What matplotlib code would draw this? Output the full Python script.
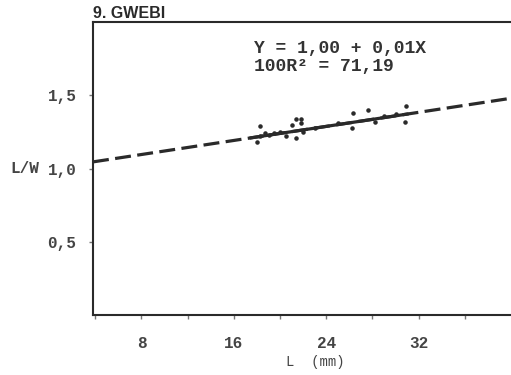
import matplotlib
matplotlib.use("Agg")
import matplotlib.pyplot as plt
import numpy as np

length_mm = [18.0, 18.3, 18.3, 18.7, 19.0, 19.5, 20.0, 20.5, 21.0, 21.4, 21.4,
             21.8, 21.8, 22.0, 23.0, 25.0, 26.2, 26.3, 27.6, 28.2, 29.0, 30.0,
             30.8, 30.9]
ratio_lw = [1.18, 1.29, 1.22, 1.24, 1.23, 1.24, 1.25, 1.22, 1.30, 1.34, 1.21,
            1.34, 1.31, 1.25, 1.28, 1.31, 1.28, 1.38, 1.40, 1.32, 1.36, 1.37,
            1.32, 1.43]

# Fitted line as drawn
fit_intercept = 1.00
fit_slope = 0.012
fit_solid_range = (17.5, 31.0)

x_ticks = [8, 16, 24, 32]
x_minor = [4, 12, 20, 28, 36]
y_ticks = [0.5, 1.0, 1.5]
y_labels = ["0,5", "1,0", "1,5"]

mono = "Liberation Mono"
ink = "#2a2a2a"

fig = plt.figure(figsize=(5.11, 3.75), dpi=100)
ax = fig.add_axes([0.182, 0.16, 0.818, 0.781])
ax.set_xlim(3.8, 40)
ax.set_ylim(0, 2.0)

xs = np.array(ax.get_xlim())
ax.plot(xs, fit_intercept + fit_slope * xs, ls=(0, (5, 2)), lw=2.3,
        color=ink, zorder=3)
xs_solid = np.array(fit_solid_range)
ax.plot(xs_solid, fit_intercept + fit_slope * xs_solid, lw=2.3,
        color=ink, zorder=4)
ax.scatter(length_mm, ratio_lw, s=5, color=ink, zorder=5)

ax.spines["right"].set_visible(False)
for side in ["left", "bottom", "top"]:
    ax.spines[side].set_linewidth(1.5)
    ax.spines[side].set_color(ink)

ax.set_xticks(x_ticks)
ax.set_xticklabels([str(t) for t in x_ticks])
ax.set_xticks(x_minor, minor=True)
ax.set_yticks(y_ticks)
ax.set_yticklabels(y_labels)
ax.tick_params(axis="both", which="both", direction="out", length=3,
               width=1, color="#777777", labelcolor="#444444", pad=9)
ax.tick_params(axis="x", pad=12)
for lab in ax.get_xticklabels() + ax.get_yticklabels():
    lab.set_fontfamily(mono)
    lab.set_fontweight("bold")
    lab.set_fontsize(11.5)

ax.text(-0.162, 0.5, "L/W", transform=ax.transAxes, ha="center",
        va="center", fontfamily=mono, fontweight="bold", fontsize=11.5,
        color="#444444")
ax.set_xlabel("L  (mm)", fontfamily=mono, fontsize=10, color="#444444")
ax.xaxis.set_label_coords(0.533, -0.138)

ax.text(0.0, 1.004, "9. GWEBI", transform=ax.transAxes, ha="left",
        va="bottom", fontfamily="Liberation Sans", fontweight="bold",
        fontsize=11.5, color=ink)

ax.text(0.385, 0.94, "Y = 1,00 + 0,01X\n100R² = 71,19",
        transform=ax.transAxes, ha="left", va="top", fontfamily=mono,
        fontweight="bold", fontsize=13, color="#333333", linespacing=1.1)

fig.savefig("out.png", dpi=100, facecolor="white")
